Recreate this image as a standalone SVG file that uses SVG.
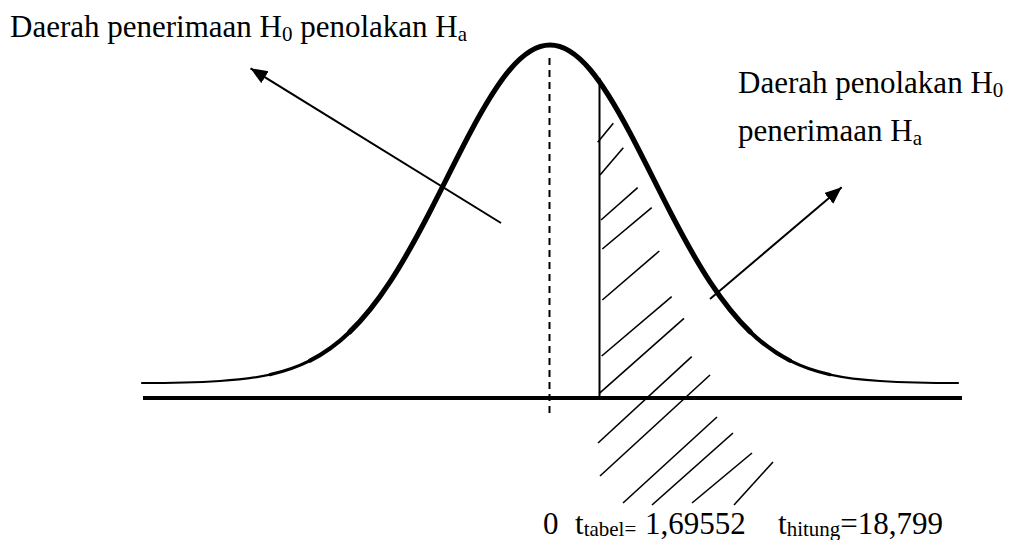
<svg xmlns="http://www.w3.org/2000/svg" width="1015" height="540" viewBox="0 0 1015 540">
<style>
.t{font-family:'Liberation Serif','Times New Roman',Times,'DejaVu Serif',serif;font-size:31px;fill:#000}
.s{font-size:21px}
.bs{font-size:21px}
.ln{stroke:#000;stroke-width:2;fill:none}
.h{stroke:#000;stroke-width:1.6;fill:none}
.c{fill:none;stroke:#000;stroke-linecap:round}
</style>
<defs>
<marker id="ah" markerUnits="userSpaceOnUse" markerWidth="20" markerHeight="16" refX="17" refY="7" orient="auto">
<path d="M0,0 L17,7 L0,14 Z" fill="#000"/>
</marker>
</defs>
<rect width="1015" height="540" fill="#fff"/>
<g id="curve">
<path class="c" stroke-width="2.2" d="M142,383 C168,383 194,382.6 220,381 C236.67,379.97 253.33,378.28 270,374.6"/>
<path class="c" stroke-width="3.2" d="M270,374.6 C283.33,371.65 296.67,367.35 310,360.6"/>
<path class="c" stroke-width="4.3" d="M310,360.6 C323.33,353.85 336.67,344.59 350,331.7"/>
<path class="c" stroke-width="5.2" d="M350,331.7 C363.33,318.81 376.67,302.23 390,281.9 C403.33,261.57 416.67,237.35 430,211.5 C443.33,185.65 456.67,158.13 470,133 C483.33,107.87 496.67,85.26 510,69.5 C523.33,53.74 536.67,45 550,45 C563.33,45 576.67,53.74 590,69.5 C603.33,85.26 616.67,107.87 630,133 C643.33,158.13 656.67,185.65 670,211.5 C683.33,237.35 696.67,261.57 710,281.9 C723.33,302.23 736.67,318.81 750,331.7"/>
<path class="c" stroke-width="4.3" d="M750,331.7 C763.33,344.59 776.67,353.85 790,360.6"/>
<path class="c" stroke-width="3.2" d="M790,360.6 C803.33,367.35 816.67,371.65 830,374.6"/>
<path class="c" stroke-width="2.2" d="M830,374.6 C846.67,378.28 863.33,379.97 880,381 C906,382.6 932,383 958,383"/>
</g>
<g id="axis">
<line x1="143" y1="398" x2="962" y2="398" stroke="#000" stroke-width="4"/>
</g>
<g id="mean-line">
<line x1="549.5" y1="58" x2="549.5" y2="416" class="ln" stroke-dasharray="7,5"/>
</g>
<g id="critical-line">
<line x1="599.5" y1="78" x2="599.5" y2="398" class="ln"/>
</g>
<g id="hatch">
<line class="h" x1="597.7" y1="142.3" x2="613.3" y2="123.3"/>
<line class="h" x1="600" y1="175" x2="623.3" y2="147.7"/>
<line class="h" x1="601" y1="220" x2="637.7" y2="187.7"/>
<line class="h" x1="602.3" y1="249" x2="651.7" y2="207.7"/>
<line class="h" x1="602.3" y1="300" x2="659.3" y2="251"/>
<line class="h" x1="601.7" y1="356" x2="671.7" y2="296.7"/>
<line class="h" x1="599.3" y1="393.3" x2="684" y2="318.3"/>
<line class="h" x1="598" y1="443" x2="691.7" y2="356.7"/>
<line class="h" x1="600" y1="476" x2="710" y2="375"/>
<line class="h" x1="623" y1="503" x2="717" y2="417"/>
<line class="h" x1="652" y1="505" x2="733" y2="433"/>
<line class="h" x1="692" y1="503" x2="752" y2="453"/>
<line class="h" x1="734" y1="505" x2="773" y2="462"/>
</g>
<g id="connectors">
<line x1="501" y1="223" x2="250.5" y2="68.3" class="ln" marker-end="url(#ah)"/>
<line x1="710" y1="299" x2="841.7" y2="187.3" class="ln" marker-end="url(#ah)"/>
</g>
<g id="label-accept">
<text class="t" x="10" y="37">Daerah penerimaan H<tspan class="s" dy="4">0</tspan><tspan dy="-4"> penolakan H</tspan><tspan class="s" dy="4">a</tspan></text>
</g>
<g id="label-reject">
<text class="t" x="738" y="93">Daerah penolakan H<tspan class="s" dy="4">0</tspan></text>
<text class="t" x="738" y="141">penerimaan H<tspan class="s" dy="4">a</tspan></text>
</g>
<g id="label-values">
<text class="t" x="543" y="534">0</text>
<text class="t" x="575" y="534">t<tspan class="bs" dy="2">tabel=</tspan><tspan x="645" dy="-2">1,69552</tspan></text>
<text class="t" x="778" y="534">t<tspan class="bs" dy="2">hitung</tspan><tspan dy="-2">=18,799</tspan></text>
</g>
</svg>
